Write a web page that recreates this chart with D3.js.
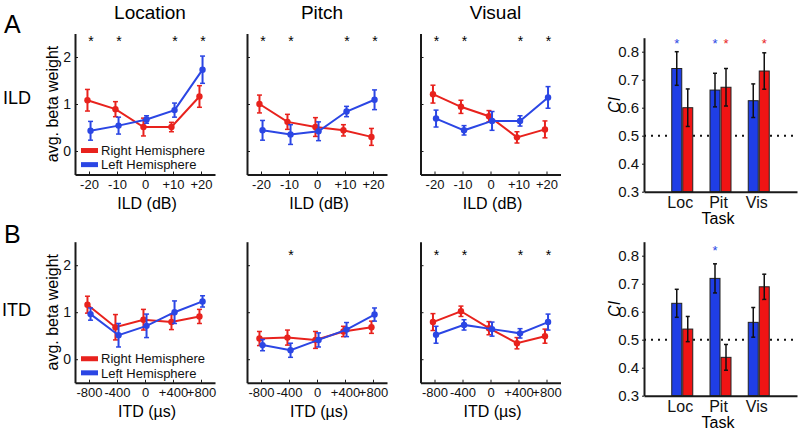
<!DOCTYPE html>
<html>
<head>
<meta charset="utf-8">
<script src="https://cdn.jsdelivr.net/npm/d3@7"></script>
<style>
  body { margin: 0; background: #fff; }
  svg { font-family: "Liberation Sans", Arial, Helvetica, sans-serif; }
</style>
</head>
<body>
<svg id="chart" width="800" height="435"></svg>
<script>
// tick labels / categories
const ildTicks = ['-20', '-10', '0', '+10', '+20'];
const itdTicks = ['-800', '-400', '0', '+400', '+800'];
const tasks = ['Location', 'Pitch', 'Visual'];
const taskShort = ['Loc', 'Pit', 'Vis'];

// ILD beta weights (right / left hemisphere), per task
const ildLocRight = [1.08, 0.89, 0.51, 0.51, 1.16];
const ildLocRightErr = [0.23, 0.16, 0.19, 0.1, 0.23];
const ildLocLeft = [0.43, 0.54, 0.67, 0.87, 1.73];
const ildLocLeftErr = [0.2, 0.18, 0.08, 0.15, 0.29];
const ildPitRight = [1.0, 0.62, 0.51, 0.44, 0.3];
const ildPitRightErr = [0.19, 0.16, 0.2, 0.12, 0.18];
const ildPitLeft = [0.44, 0.35, 0.42, 0.84, 1.09];
const ildPitLeftErr = [0.21, 0.21, 0.2, 0.11, 0.21];
const ildVisRight = [1.21, 0.94, 0.74, 0.29, 0.46];
const ildVisRightErr = [0.19, 0.14, 0.12, 0.12, 0.18];
const ildVisLeft = [0.69, 0.44, 0.64, 0.64, 1.14];
const ildVisLeftErr = [0.18, 0.1, 0.2, 0.11, 0.23];

// ITD beta weights
const itdLocRight = [1.16, 0.68, 0.84, 0.79, 0.91];
const itdLocRightErr = [0.18, 0.27, 0.22, 0.16, 0.15];
const itdLocLeft = [0.96, 0.51, 0.71, 1.0, 1.23];
const itdLocLeftErr = [0.13, 0.25, 0.25, 0.24, 0.12];
const itdPitRight = [0.44, 0.46, 0.41, 0.59, 0.68];
const itdPitRightErr = [0.15, 0.16, 0.18, 0.11, 0.13];
const itdPitLeft = [0.3, 0.19, 0.41, 0.63, 0.95];
const itdPitLeftErr = [0.12, 0.15, 0.15, 0.15, 0.14];
const itdVisRight = [0.79, 1.02, 0.66, 0.34, 0.49];
const itdVisRightErr = [0.18, 0.11, 0.14, 0.12, 0.15];
const itdVisLeft = [0.52, 0.73, 0.64, 0.55, 0.79];
const itdVisLeftErr = [0.18, 0.11, 0.15, 0.1, 0.17];

// significance stars (tick indices)
const ildStars = [[0, 1, 3, 4], [0, 1, 3, 4], [0, 1, 3, 4]];
const itdStars = [[], [1], [0, 1, 3, 4]];

// classification index (CI) bars
const ciIldLeft = [0.74, 0.663, 0.625];
const ciIldLeftErr = [0.06, 0.06, 0.06];
const ciIldRight = [0.60, 0.673, 0.731];
const ciIldRightErr = [0.067, 0.067, 0.065];
const ciItdLeft = [0.63, 0.719, 0.562];
const ciItdLeftErr = [0.05, 0.052, 0.053];
const ciItdRight = [0.538, 0.437, 0.689];
const ciItdRightErr = [0.045, 0.046, 0.045];
const ciIldStarsLeft = [1, 1, 0];
const ciIldStarsRight = [0, 1, 1];
const ciItdStarsLeft = [0, 1, 0];
const ciItdStarsRight = [0, 0, 0];

const red = '#e8221d';
const blue = '#2b46e4';
const barRed = '#f01414';
const barBlue = '#1f3ee6';
const axisColor = '#1a1a1a';

const svg = d3.select('#chart');

function styleAxis(g, size) {
  g.select('.domain').attr('stroke', axisColor).attr('stroke-width', 2);
  g.selectAll('.tick line').attr('stroke', axisColor).attr('stroke-width', 1);
  g.selectAll('.tick text').attr('fill', '#111').style('font-size', size + 'px');
}

function linePanel(p) {
  const x = d3.scaleLinear().domain([-2.5, 2.5]).range([p.x0, p.x0 + 140]);
  const y = d3.scaleLinear().domain([-0.5, 2.5]).range([p.yTop + 141, p.yTop]);
  const g = svg.append('g');

  const xAxis = d3.axisBottom(x).tickValues(d3.range(-2, 3))
    .tickFormat((d, i) => p.ticks[i]).tickSizeInner(-3).tickSizeOuter(0).tickPadding(5);
  g.append('g').attr('transform', `translate(0,${y(-0.5)})`).call(xAxis).call(styleAxis, 13);

  const yAxis = d3.axisLeft(y).tickValues([0, 1, 2]).tickSizeInner(-3).tickSizeOuter(0).tickPadding(4)
    .tickFormat(p.yLabels ? d3.format('d') : () => '');
  g.append('g').attr('transform', `translate(${p.x0},0)`).call(yAxis).call(styleAxis, 14);

  g.append('text').attr('x', p.x0 + 72).attr('y', y(-0.5) + 34)
    .attr('text-anchor', 'middle').style('font-size', '16px').text(p.label);

  const series = [
    { vals: p.right, errs: p.rightErr, color: red, dodge: -0.055 },
    { vals: p.left, errs: p.leftErr, color: blue, dodge: 0.055 }
  ];
  series.forEach(s => {
    const pts = s.vals.map((v, i) => ({ i: i - 2 + s.dodge, v, e: s.errs[i] }));
    const sg = g.append('g');
    sg.append('path').datum(pts)
      .attr('d', d3.line().x(d => x(d.i)).y(d => y(d.v)))
      .attr('fill', 'none').attr('stroke', s.color).attr('stroke-width', 2);
    pts.forEach(d => {
      sg.append('line').attr('x1', x(d.i)).attr('x2', x(d.i))
        .attr('y1', y(d.v - d.e)).attr('y2', y(d.v + d.e))
        .attr('stroke', s.color).attr('stroke-width', 2);
      [d.v - d.e, d.v + d.e].forEach(c => {
        sg.append('line').attr('x1', x(d.i) - 2.5).attr('x2', x(d.i) + 2.5)
          .attr('y1', y(c)).attr('y2', y(c)).attr('stroke', s.color).attr('stroke-width', 1.5);
      });
      sg.append('circle').attr('cx', x(d.i)).attr('cy', y(d.v)).attr('r', 3.2).attr('fill', s.color);
    });
  });

  p.stars.forEach(i => {
    g.append('text').attr('x', x(i - 2) + 2).attr('y', y(p.starLevel))
      .attr('text-anchor', 'middle').attr('dy', '0.58em').style('font-size', '14px').text('*');
  });

  if (p.legend) {
    [['Right Hemisphere', red, 0.01], ['Left Hemisphere', blue, -0.29]].forEach(([t, c, v]) => {
      g.append('line').attr('x1', p.x0 + 6).attr('x2', p.x0 + 23)
        .attr('y1', y(v)).attr('y2', y(v)).attr('stroke', c).attr('stroke-width', 5);
      g.append('text').attr('x', p.x0 + 26).attr('y', y(v)).attr('dy', '0.36em')
        .style('font-size', '13px').attr('fill', '#111').text(t);
    });
  }
  if (p.yLabels) {
    g.append('text').attr('transform', `translate(${p.x0 - 17},${y(1)}) rotate(-90)`)
      .attr('text-anchor', 'middle').style('font-size', '16px').text('avg. beta weight');
  }
  return y;
}

function barPanel(p) {
  const x = d3.scaleLinear().domain([0, 4]).range([644, 797]);
  const y = d3.scaleLinear().domain([0.3, 0.85]).range([p.yTop + 154, p.yTop]);
  const g = svg.append('g');

  g.append('line').attr('x1', x(0)).attr('x2', x(4)).attr('y1', y(0.5)).attr('y2', y(0.5))
    .attr('stroke', '#111').attr('stroke-width', 2).attr('stroke-dasharray', '2,5');

  const groups = [
    { vals: p.left, errs: p.leftErr, stars: p.starsL, fill: barBlue, star: blue, off: -10.5 },
    { vals: p.right, errs: p.rightErr, stars: p.starsR, fill: barRed, star: red, off: 0.5 }
  ];
  groups.forEach(s => {
    s.vals.forEach((v, i) => {
      const bx = x(i + 1) + s.off;
      g.append('rect').attr('x', bx).attr('y', y(v)).attr('width', 10).attr('height', y(0.3) - y(v))
        .attr('fill', s.fill).attr('stroke', '#222').attr('stroke-width', 1);
      const cx = bx + 5;
      g.append('line').attr('x1', cx).attr('x2', cx).attr('y1', y(v - s.errs[i])).attr('y2', y(v + s.errs[i]))
        .attr('stroke', '#111').attr('stroke-width', 1.5);
      [v - s.errs[i], v + s.errs[i]].forEach(c => {
        g.append('line').attr('x1', cx - 2).attr('x2', cx + 2).attr('y1', y(c)).attr('y2', y(c))
          .attr('stroke', '#111').attr('stroke-width', 1.5);
      });
      if (s.stars[i]) {
        g.append('text').attr('x', cx).attr('y', y(p.starLevel)).attr('dy', '0.58em')
          .attr('text-anchor', 'middle').attr('fill', s.star).style('font-size', '13px').text('*');
      }
    });
  });

  const xAxis = d3.axisBottom(x).tickValues([1, 2, 3]).tickFormat((d, i) => taskShort[i])
    .tickSize(0).tickPadding(5);
  g.append('g').attr('transform', `translate(0,${y(0.3)})`).call(xAxis).call(styleAxis, 16)
    .selectAll('.tick text').attr('dx', -2.5);
  const yAxis = d3.axisLeft(y).tickValues([0.3, 0.4, 0.5, 0.6, 0.7, 0.8]).tickFormat(d3.format('.1f'))
    .tickSizeInner(2).tickSizeOuter(0).tickPadding(3);
  g.append('g').attr('transform', `translate(${x(0)},0)`).call(yAxis).call(styleAxis, 15);

  g.append('text').attr('x', 718).attr('y', y(0.3) + 32).attr('text-anchor', 'middle')
    .style('font-size', '16px').text('Task');
  g.append('text').attr('transform', `translate(${x(0) - 24},${y(0.61)}) rotate(-90)`)
    .attr('text-anchor', 'middle').style('font-size', '16px').style('font-style', 'italic').text('CI');
}

const panelX = [75, 247, 420.5];
const ildData = [
  [ildLocRight, ildLocRightErr, ildLocLeft, ildLocLeftErr],
  [ildPitRight, ildPitRightErr, ildPitLeft, ildPitLeftErr],
  [ildVisRight, ildVisRightErr, ildVisLeft, ildVisLeftErr]
];
const itdData = [
  [itdLocRight, itdLocRightErr, itdLocLeft, itdLocLeftErr],
  [itdPitRight, itdPitRightErr, itdPitLeft, itdPitLeftErr],
  [itdVisRight, itdVisRightErr, itdVisLeft, itdVisLeftErr]
];

tasks.forEach((t, k) => {
  const [r, re, l, le] = ildData[k];
  linePanel({ x0: panelX[k], yTop: 33.5, ticks: ildTicks, label: 'ILD (dB)', right: r, rightErr: re,
    left: l, leftErr: le, stars: ildStars[k], starLevel: 2.4, legend: k === 0, yLabels: k === 0 });
  svg.append('text').attr('x', panelX[k] + 75).attr('y', 19).attr('text-anchor', 'middle')
    .style('font-size', '19px').text(t);
});
tasks.forEach((t, k) => {
  const [r, re, l, le] = itdData[k];
  linePanel({ x0: panelX[k], yTop: 241.7, ticks: itdTicks, label: 'ITD (\u00b5s)', right: r, rightErr: re,
    left: l, leftErr: le, stars: itdStars[k], starLevel: 2.29, legend: k === 0, yLabels: k === 0 });
});

barPanel({ yTop: 37.7, left: ciIldLeft, leftErr: ciIldLeftErr, right: ciIldRight, rightErr: ciIldRightErr,
  starsL: ciIldStarsLeft, starsR: ciIldStarsRight, starLevel: 0.84 });
barPanel({ yTop: 241.7, left: ciItdLeft, leftErr: ciItdLeftErr, right: ciItdRight, rightErr: ciItdRightErr,
  starsL: ciItdStarsLeft, starsR: ciItdStarsRight, starLevel: 0.83 });

// panel letters and row labels
svg.append('text').attr('x', 4).attr('y', 33).style('font-size', '25px').text('A');
svg.append('text').attr('x', 4).attr('y', 243).style('font-size', '25px').text('B');
svg.append('text').attr('x', 3).attr('y', 104).style('font-size', '18px').text('ILD');
svg.append('text').attr('x', 2).attr('y', 316).style('font-size', '18px').text('ITD');
</script>
</body>
</html>
